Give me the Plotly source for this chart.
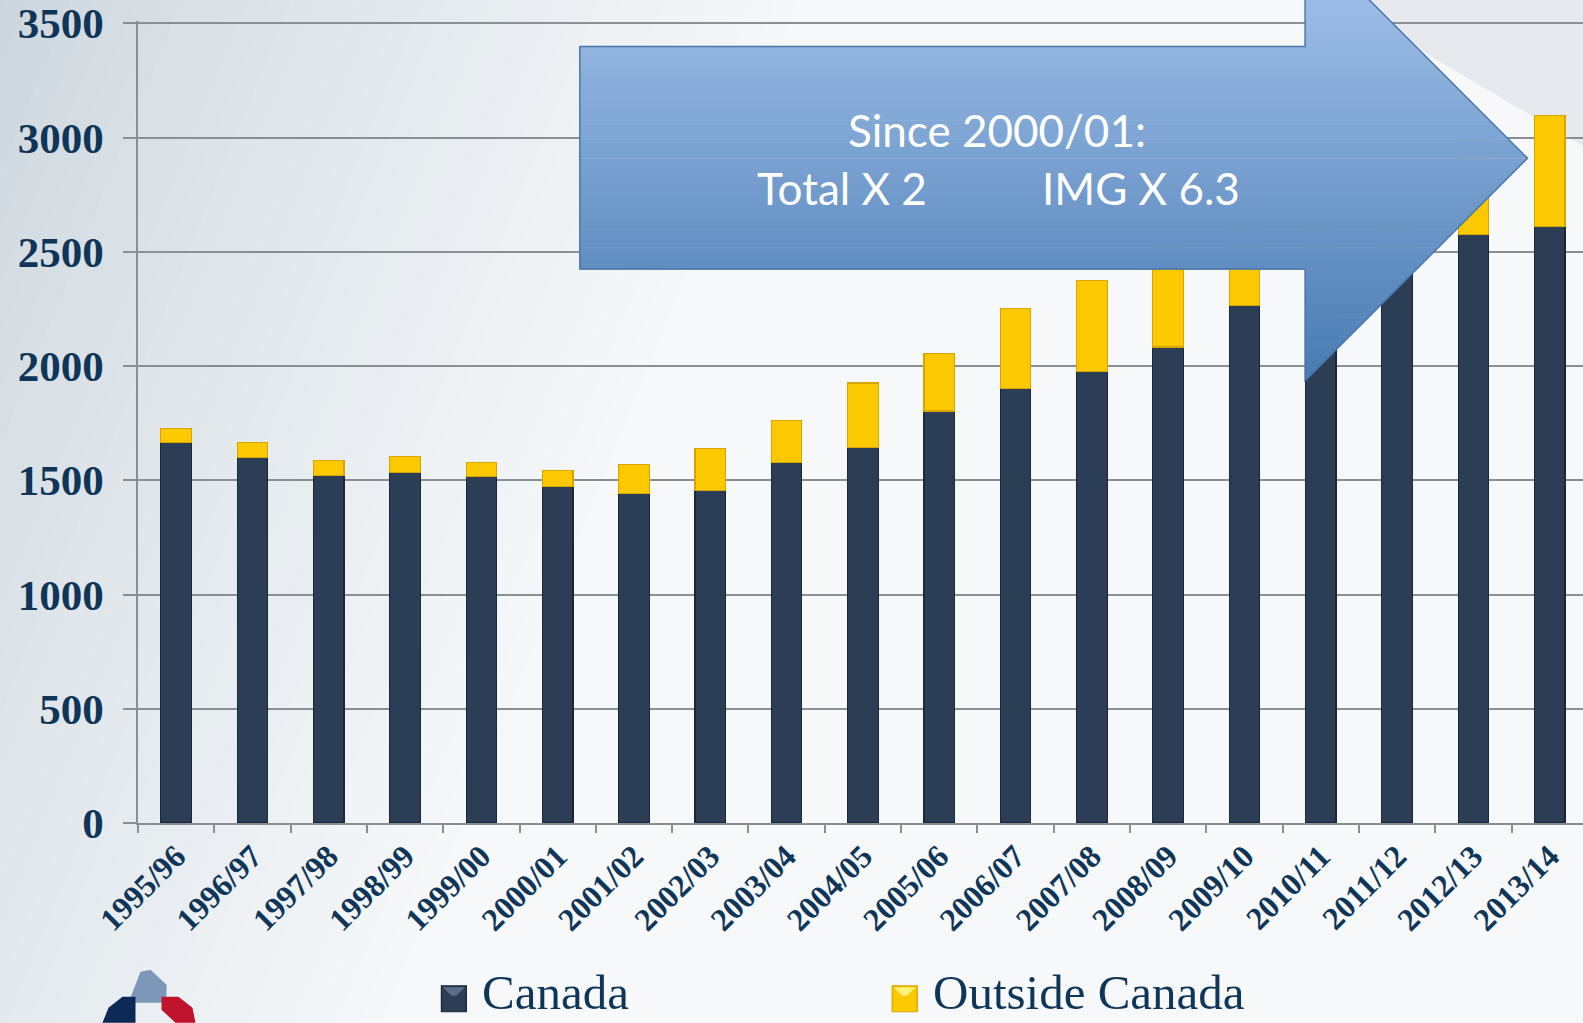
import plotly.graph_objects as go

# ---------------- data ----------------
years = ["1995/96", "1996/97", "1997/98", "1998/99", "1999/00", "2000/01", "2001/02",
         "2002/03", "2003/04", "2004/05", "2005/06", "2006/07", "2007/08", "2008/09",
         "2009/10", "2010/11", "2011/12", "2012/13", "2013/14"]
canada = [1666, 1600, 1520, 1534, 1516, 1472, 1441, 1455, 1578, 1644, 1803, 1900,
          1975, 2083, 2265, 2330, 2450, 2574, 2610]
outside_canada = [62, 66, 67, 70, 62, 71, 128, 185, 185, 282, 251, 352,
                  401, 447, 435, 460, 430, 420, 485]
y_ticks = [0, 500, 1000, 1500, 2000, 2500, 3000, 3500]
series_names = ["Canada", "Outside Canada"]
callout_line1 = "Since 2000/01:"
callout_total = "Total X 2"
callout_img = "IMG X 6.3"

# ---------------- geometry (pixels -> paper) ----------------
W, H = 1583, 1023
Y_TOP = 3510
PL, PR = 137.5, 1583.0                 # plot area left/right px
PB = 822.8                             # y = 0
Y3500 = 21.2                           # y = 3500
PT = PB - (PB - Y3500) * Y_TOP / 3500  # top of plot area


def px(xp):
    return (xp - PL) / (PR - PL)


def py(yp):
    return (PB - yp) / (PB - PT)


NAVY = "#0f3658"
CAN_COL = "#2c3e55"
OUT_COL = "#fcc800"
shapes = []


def lerp(c0, c1, t):
    return "#%02x%02x%02x" % tuple(int(round(a + (b - a) * t)) for a, b in zip(c0, c1))


# ---------- background gradient (slide look) ----------
bg0 = (200, 210, 218)
bg1 = (246, 248, 250)
N = 40
for i in range(N):
    t = i / (N - 1)
    x_top0 = -60 + i * 22
    x_top1 = x_top0 + 23
    shift = 420
    path = "M {a},{b} L {c},{b} L {d},{e} L {f},{e} Z".format(
        a=px(x_top0), b=py(-5), c=px(x_top1), d=px(x_top1 - shift), e=py(H + 5),
        f=px(x_top0 - shift))
    shapes.append(dict(type="path", xref="paper", yref="paper", path=path,
                       fillcolor=lerp(bg0, bg1, t ** 0.8), line=dict(width=0),
                       layer="below"))
path = "M {a},{b} L {c},{b} L {c},{e} L {f},{e} Z".format(
    a=px(-60 + N * 22), b=py(-5), c=px(W + 10), e=py(H + 5), f=px(-60 + N * 22 - 420))
shapes.append(dict(type="path", xref="paper", yref="paper", path=path,
                   fillcolor="#f6f8fa", line=dict(width=0), layer="below"))
shapes.append(dict(type="path", xref="paper", yref="paper",
                   path="M {},{} L {},{} L {},{} Z".format(px(1330), py(-5), px(W + 10), py(-5), px(W + 10), py(150)),
                   fillcolor="#e6eaee", line=dict(width=0), layer="below"))

# ---------- big callout arrow with vertical gradient ----------
BOX_L, BOX_R = 579.5, 1305.0
BOX_T, BOX_B = 44.4, 267.5
TIP_X, TIP_Y = 1527.5, 156.5
HALF = 223.0
HEAD_T, HEAD_B = TIP_Y - HALF, TIP_Y + HALF
ctop = (170, 199, 239)
cbot = (72, 123, 178)


def xr(y):
    return BOX_R + (TIP_X - BOX_R) * (1 - abs(y - TIP_Y) / HALF)


bounds = set([HEAD_T, HEAD_B, BOX_T, BOX_B, TIP_Y])
step = (HEAD_B - HEAD_T) / 70
for k in range(71):
    bounds.add(HEAD_T + k * step)
bounds = sorted(b for b in bounds if HEAD_T <= b <= HEAD_B)
for ya, yb in zip(bounds[:-1], bounds[1:]):
    if yb - ya < 0.01:
        continue
    ym = 0.5 * (ya + yb)
    xl = BOX_L if BOX_T <= ym <= BOX_B else BOX_R
    t = (ym - HEAD_T) / (HEAD_B - HEAD_T)
    yb2 = min(yb + 0.6, HEAD_B)
    if ya < TIP_Y < yb2:
        yb2 = TIP_Y
    path = "M {a},{b} L {c},{b} L {d},{e} L {a},{e} Z".format(
        a=px(xl), b=py(ya), c=px(xr(ya)), d=px(xr(yb2)), e=py(yb2))
    shapes.append(dict(type="path", xref="paper", yref="paper", path=path,
                       fillcolor=lerp(ctop, cbot, t), line=dict(width=0), layer="above"))

outline = ("M {a},{b} L {c},{b} L {c},{d} L {e},{f} L {c},{g} L {c},{h} L {a},{h} Z").format(
    a=px(BOX_L), b=py(BOX_T), c=px(BOX_R), d=py(HEAD_T), e=px(TIP_X), f=py(TIP_Y),
    g=py(HEAD_B), h=py(BOX_B))
shapes.append(dict(type="path", xref="paper", yref="paper", path=outline,
                   fillcolor="rgba(0,0,0,0)", line=dict(color="#4a76a8", width=1.5),
                   layer="above"))

# ---------- small logo fragment bottom-left ----------
logo = [
    ([(128, 1003), (140, 972), (150, 970), (166, 985), (166, 1003), (145, 1003)], "#7d97b8"),
    ([(102, 1023), (108, 1008), (122, 997), (135, 997), (135, 1023), (120, 1023)], "#0c2a55"),
    ([(161, 997), (178, 997), (192, 1008), (195, 1023), (175, 1023), (161, 1010)], "#c0142e"),
]
for pts, col in logo:
    path = "M " + " L ".join("{},{}".format(px(a), py(b)) for a, b in pts) + " Z"
    shapes.append(dict(type="path", xref="paper", yref="paper", path=path,
                       fillcolor=col, line=dict(width=0), layer="above"))

# ---------- legend (drawn manually for large swatches) ----------
legend_items = [(441, 480, CAN_COL, "#1b2838", "#5a6e88"),
                (892, 931, OUT_COL, "#d8a400", "#fff07a")]
annotations = []
for name, (sx, tx, col, edge, hi) in zip(series_names, legend_items):
    shapes.append(dict(type="rect", xref="paper", yref="paper",
                       x0=px(sx), x1=px(sx + 25), y0=py(1012), y1=py(986),
                       fillcolor=col, line=dict(color=edge, width=1.2), layer="above"))
    shapes.append(dict(type="path", xref="paper", yref="paper",
                       path="M {},{} L {},{} L {},{} L {},{} Z".format(
                           px(sx + 1.5), py(987.5), px(sx + 23.5), py(987.5),
                           px(sx + 15), py(996), px(sx + 10), py(996)),
                       fillcolor=hi, line=dict(width=0), layer="above"))
    annotations.append(dict(text=name, x=px(tx), y=py(1022), xref="paper", yref="paper",
                            showarrow=False, xanchor="left", yanchor="bottom",
                            font=dict(family="Liberation Serif, serif", size=49, color=NAVY)))

callout_font = dict(family="Liberation Sans Narrow, Lato, sans-serif", size=44, color="white")
annotations += [
    dict(text=callout_line1, x=px(997), y=py(128), xref="paper", yref="paper",
         showarrow=False, xanchor="center", yanchor="middle", font=callout_font),
    dict(text=callout_total, x=px(842), y=py(186), xref="paper", yref="paper",
         showarrow=False, xanchor="center", yanchor="middle", font=callout_font),
    dict(text=callout_img, x=px(1141), y=py(186), xref="paper", yref="paper",
         showarrow=False, xanchor="center", yanchor="middle", font=callout_font),
]

# ---------------- figure ----------------
fig = go.Figure()
fig.add_trace(go.Bar(
    name=series_names[0], x=years, y=canada,
    marker=dict(color=CAN_COL, line=dict(color="#1b2838", width=1.2)),
))
fig.add_trace(go.Bar(
    name=series_names[1], x=years, y=outside_canada,
    marker=dict(color=OUT_COL, line=dict(color="#d8a400", width=1.2)),
))

fig.update_layout(
    width=W, height=H,
    margin=dict(l=PL, r=W - PR, t=PT, b=H - PB, pad=0),
    barmode="stack",
    bargap=0.6,
    paper_bgcolor="#f2f4f6",
    plot_bgcolor="rgba(0,0,0,0)",
    shapes=shapes,
    annotations=annotations,
    showlegend=False,
    xaxis=dict(
        type="category", range=[-0.5, (PR - PL) / ((1549.7 - 175.7) / 18) - 0.5],
        tickson="boundaries", ticks="outside", ticklen=8, tickcolor="#8a8f94",
        tickwidth=1.5, showline=True, linecolor="#8a8f94", linewidth=1.5,
        showgrid=False, tickangle=-45,
        tickfont=dict(family="Liberation Serif, serif", size=32, color=NAVY, weight="bold"),
    ),
    yaxis=dict(
        range=[0, Y_TOP], tickvals=y_ticks, ticktext=[str(v) for v in y_ticks],
        ticks="outside", ticklen=13, tickcolor="#8a8f94", tickwidth=1.5,
        ticklabelstandoff=11, ticklabeloverflow="allow",
        showline=True, linecolor="#8a8f94", linewidth=1.5,
        showgrid=True, gridcolor="#8a8f94", gridwidth=1.5, zeroline=False,
        tickfont=dict(family="Liberation Serif, serif", size=43, color=NAVY, weight="bold"),
    ),
)

fig.write_html("out.html", config={"displayModeBar": False},
               post_script="document.body.style.margin='0';document.body.style.overflow='hidden';")
